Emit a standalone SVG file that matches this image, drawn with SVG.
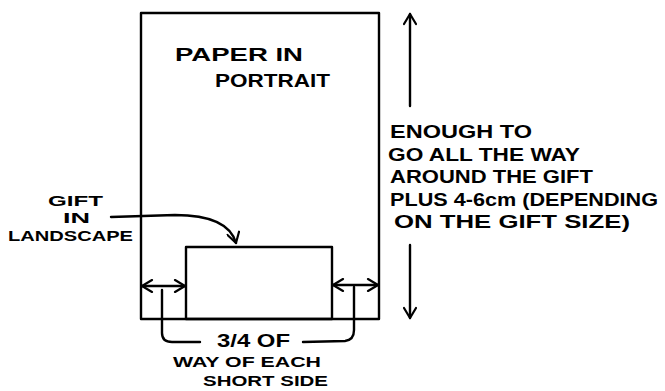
<svg xmlns="http://www.w3.org/2000/svg" width="665" height="391" viewBox="0 0 665 391">
<style>
.ln{fill:none;stroke:#000;stroke-width:2.4;stroke-linecap:round;stroke-linejoin:round}
.t{font-family:"Liberation Sans",Arial,sans-serif;font-weight:bold;font-size:18px;fill:#000}
.s{font-size:15px}
</style>
<defs>
<marker id="ah" viewBox="0 0 14 14" refX="12" refY="7" markerWidth="14" markerHeight="14" markerUnits="userSpaceOnUse" orient="auto-start-reverse">
<path d="M2,1 L12,7 L2,13" fill="none" stroke="#000" stroke-width="2.2" stroke-linecap="round" stroke-linejoin="round"/>
</marker>
</defs>
<rect width="665" height="391" fill="#fff"/>
<g id="paper">
<rect class="ln" x="141" y="13" width="238" height="306"/>
<text class="t" x="175" y="61" textLength="128" lengthAdjust="spacingAndGlyphs">PAPER IN</text>
<text class="t" x="215" y="87" textLength="115" lengthAdjust="spacingAndGlyphs">PORTRAIT</text>
</g>
<g id="gift">
<rect class="ln" x="186" y="247" width="146" height="72"/>
</g>
<g id="gift-label">
<text class="t s" x="48" y="206" textLength="55" lengthAdjust="spacingAndGlyphs">GIFT</text>
<text class="t s" x="63" y="223" textLength="27" lengthAdjust="spacingAndGlyphs">IN</text>
<text class="t s" x="8" y="241" textLength="125" lengthAdjust="spacingAndGlyphs">LANDSCAPE</text>
</g>
<g id="length-label">
<text class="t" x="390" y="138" textLength="142" lengthAdjust="spacingAndGlyphs">ENOUGH TO</text>
<text class="t" x="388" y="161" textLength="192" lengthAdjust="spacingAndGlyphs">GO ALL THE WAY</text>
<text class="t" x="390" y="183" textLength="203" lengthAdjust="spacingAndGlyphs">AROUND THE GIFT</text>
<text class="t" x="390" y="206" textLength="268" lengthAdjust="spacingAndGlyphs">PLUS 4-6cm (DEPENDING</text>
<text class="t" x="394" y="228" textLength="236" lengthAdjust="spacingAndGlyphs">ON THE GIFT SIZE)</text>
</g>
<g id="side-label">
<text class="t" x="217" y="347" textLength="73" lengthAdjust="spacingAndGlyphs">3/4 OF</text>
<text class="t s" x="173" y="367" textLength="148" lengthAdjust="spacingAndGlyphs">WAY OF EACH</text>
<text class="t s" x="203" y="386" textLength="125" lengthAdjust="spacingAndGlyphs">SHORT SIDE</text>
</g>
<g id="connectors">
<path class="ln" d="M410,106 L410,14" marker-end="url(#ah)"/>
<path class="ln" d="M410,245 L410,318" marker-end="url(#ah)"/>
<path class="ln" d="M111,217 L175,215 Q228,215 236,243" marker-end="url(#ah)"/>
<path class="ln" d="M142,286 L185,286" marker-start="url(#ah)" marker-end="url(#ah)"/>
<path class="ln" d="M333,285 L378,285" marker-start="url(#ah)" marker-end="url(#ah)"/>
<path class="ln" d="M162,290 L162,333 Q162,342 172,342 L200,342"/>
<path class="ln" d="M303,342 L345,341 Q354,340 354,330 L354,287"/>
</g>
</svg>
